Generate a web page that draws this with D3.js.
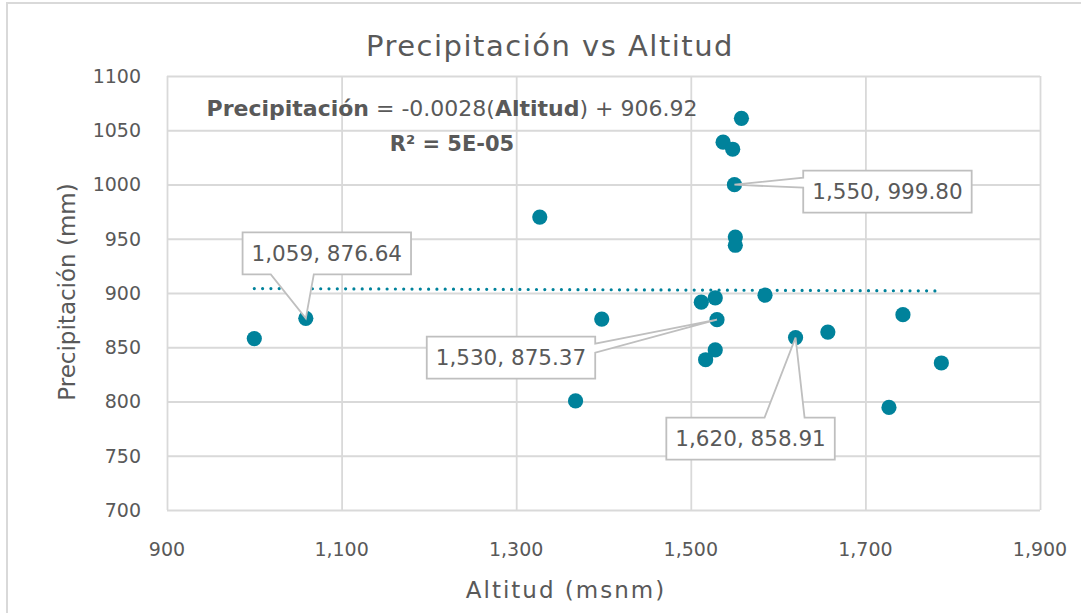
<!DOCTYPE html>
<html>
<head>
<meta charset="utf-8">
<script src="https://cdn.jsdelivr.net/npm/d3@7"></script>
<style>
  html, body { margin: 0; padding: 0; background: #fff; }
  svg { display: block; }
  text { font-family: "DejaVu Sans", sans-serif; fill: #595959; }
</style>
</head>
<body>
<svg id="chart" width="1081" height="613"></svg>
<script>
// Altitud (msnm) and precipitación (mm) of each station
const altitud = [1000, 1059, 1327, 1368, 1398, 1512, 1528, 1530, 1528, 1517, 1537, 1548, 1558, 1550, 1551, 1551, 1585, 1620, 1657, 1743, 1727, 1787];
const precipitacion = [858, 876.64, 970, 800.5, 876, 891.5, 895.5, 875.37, 847.5, 838.5, 1039, 1032.5, 1061, 999.80, 951.5, 944, 898, 858.91, 864, 880, 794.5, 835.5];

// Axis ticks
const xTicks = [900, 1100, 1300, 1500, 1700, 1900];
const yTicks = [700, 750, 800, 850, 900, 950, 1000, 1050, 1100];

// Linear trend reported on the chart
const pendiente = -0.0028;
const intercepto = 906.92;

// Points carrying a data label: index into the arrays
const etiquetas = [1, 13, 7, 17];

const svg = d3.select("#chart");
const W = 1081, H = 613;
const plot = { left: 167, top: 76, right: 1040, bottom: 510 };

const x = d3.scaleLinear().domain([900, 1900]).range([plot.left, plot.right]);
const y = d3.scaleLinear().domain([700, 1100]).range([plot.bottom, plot.top]);

const teal = "#00829b";
const grid = "#d9d9d9";

// chart area frame
svg.append("rect")
  .attr("x", 7).attr("y", 3).attr("width", W + 20).attr("height", H + 20)
  .attr("fill", "#fff").attr("stroke", grid).attr("stroke-width", 2);

// gridlines
const gx = svg.append("g")
  .attr("transform", `translate(0,${plot.bottom})`)
  .call(d3.axisBottom(x).tickValues(xTicks).tickSize(-(plot.bottom - plot.top)).tickFormat(""));
const gy = svg.append("g")
  .attr("transform", `translate(${plot.left},0)`)
  .call(d3.axisLeft(y).tickValues(yTicks).tickSize(-(plot.right - plot.left)).tickFormat(""));
[gx, gy].forEach(g => {
  g.select(".domain").remove();
  g.selectAll(".tick line").attr("stroke", grid).attr("stroke-width", 1.8);
});

// tick labels
const fmtX = d3.format(",");
svg.append("g").selectAll("text").data(xTicks).join("text")
  .attr("x", d => x(d)).attr("y", 556)
  .attr("text-anchor", "middle").attr("font-size", 19)
  .text(d => fmtX(d));
svg.append("g").selectAll("text").data(yTicks).join("text")
  .attr("x", 141).attr("y", d => y(d)).attr("dy", "0.36em")
  .attr("text-anchor", "end").attr("font-size", 19)
  .text(d => d);

// title and axis titles
svg.append("text").attr("x", 550).attr("y", 56).attr("text-anchor", "middle")
  .attr("font-size", 29).attr("letter-spacing", 1.5).text("Precipitación vs Altitud");
svg.append("text").attr("x", 566).attr("y", 598).attr("text-anchor", "middle")
  .attr("font-size", 23).attr("letter-spacing", 2).text("Altitud (msnm)");
svg.append("text").attr("transform", "translate(75,292) rotate(-90)")
  .attr("text-anchor", "middle").attr("font-size", 23).text("Precipitación (mm)");

// trendline over the observed altitude range
const [xMin, xMax] = d3.extent(altitud);
svg.append("line")
  .attr("x1", x(xMin)).attr("y1", y(pendiente * xMin + intercepto))
  .attr("x2", x(xMax)).attr("y2", y(pendiente * xMax + intercepto))
  .attr("stroke", teal).attr("stroke-width", 3.2)
  .attr("stroke-linecap", "round").attr("stroke-dasharray", "0 8.3");

// equation of the trend
const eq = svg.append("text").attr("x", 452).attr("y", 116).attr("text-anchor", "middle").attr("font-size", 22);
eq.append("tspan").attr("font-weight", "bold").text("Precipitación");
eq.append("tspan").text(` = ${pendiente.toFixed(4)}(`);
eq.append("tspan").attr("font-weight", "bold").text("Altitud");
eq.append("tspan").text(`) + ${intercepto.toFixed(2)}`);
svg.append("text").attr("x", 452).attr("y", 151).attr("text-anchor", "middle")
  .attr("font-size", 21).attr("font-weight", "bold").text("R² = 5E-05");

// markers
svg.append("g").selectAll("circle").data(altitud).join("circle")
  .attr("cx", d => x(d)).attr("cy", (d, i) => y(precipitacion[i]))
  .attr("r", 7.6).attr("fill", teal);

// data-label callouts: box centre offset from the point and the side the pointer leaves from
const callouts = [
  { dx: 21,   dy: -65, side: "bottom", a: -56, b: -13 },
  { dx: 153,  dy: 7,   side: "left",   a: -14, b: -4 },
  { dx: -206, dy: 38,  side: "right",  a: -14, b: -5 },
  { dx: -45,  dy: 101, side: "top",    a: 14,  b: 54 }
];
const fmtY = d3.format(".2f");
const gl = svg.append("g");
etiquetas.forEach((idx, k) => {
  const c = callouts[k];
  const px = x(altitud[idx]), py = y(precipitacion[idx]);
  const cx = px + c.dx, cy = py + c.dy;
  const g = gl.append("g");
  const path = g.append("path");
  const t = g.append("text").attr("x", cx).attr("y", cy).attr("dy", "0.36em")
    .attr("text-anchor", "middle").attr("font-size", 21.5)
    .text(`${fmtX(altitud[idx])}, ${fmtY(precipitacion[idx])}`);
  const w = t.node().getComputedTextLength() + 18, h = 42;
  const L = cx - w / 2, R = cx + w / 2, T = cy - h / 2, B = cy + h / 2;
  let pts;
  if (c.side === "bottom") pts = [[L, T], [R, T], [R, B], [cx + c.b, B], [px, py], [cx + c.a, B], [L, B]];
  else if (c.side === "top") pts = [[L, T], [cx + c.a, T], [px, py], [cx + c.b, T], [R, T], [R, B], [L, B]];
  else if (c.side === "left") pts = [[L, T], [R, T], [R, B], [L, B], [L, cy + c.b], [px, py], [L, cy + c.a]];
  else pts = [[L, T], [R, T], [R, cy + c.a], [px, py], [R, cy + c.b], [R, B], [L, B]];
  path.attr("d", d3.line()(pts) + "Z")
    .attr("fill", "#fff").attr("stroke", "#bfbfbf").attr("stroke-width", 1.8)
    .attr("stroke-linejoin", "miter");
});
</script>
</body>
</html>
